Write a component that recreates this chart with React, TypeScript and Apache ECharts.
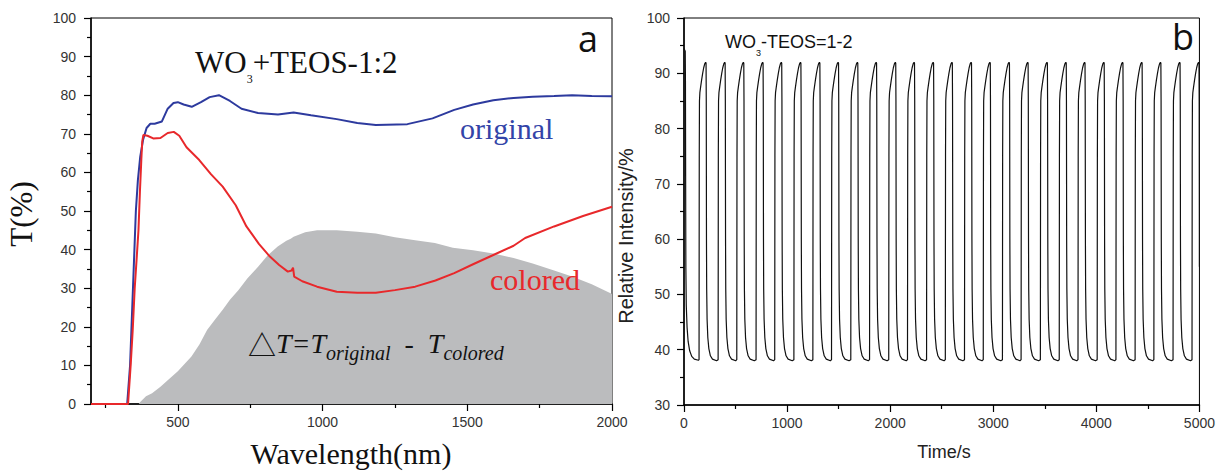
import React, { useEffect, useRef } from "react";
import * as echarts from "echarts";

// ---------- Panel a: transmittance vs wavelength ----------
const WL_MAJOR_TICKS = [500, 1000, 1500, 2000];
const WL_MINOR_TICKS = [250, 750, 1250, 1750];

const T_ORIGINAL: [number, number][] = [
  [200, 0], [325, 0], [335, 10], [345, 30], [355, 50], [362, 58], [370, 64], [380, 68.5],
  [392, 71.5], [405, 72.6], [420, 72.6], [445, 73.2], [465, 76.5], [485, 78], [500, 78.2],
  [520, 77.6], [548, 77], [580, 78.2], [610, 79.5], [642, 80], [680, 78.5], [720, 76.5],
  [777, 75.4], [846, 75], [900, 75.5], [960, 74.8], [1049, 73.8], [1120, 72.8], [1184, 72.3],
  [1293, 72.5], [1380, 74], [1455, 76.2], [1520, 77.6], [1590, 78.7], [1660, 79.3],
  [1726, 79.6], [1800, 79.8], [1862, 80], [1930, 79.8], [2000, 79.7],
];

const T_COLORED: [number, number][] = [
  [200, 0], [328, 0], [337, 10], [344, 19], [351, 30], [358, 38], [364, 45], [369, 55],
  [374, 63.5], [377, 68], [381, 69.7], [395, 69.5], [415, 68.8], [440, 68.9], [465, 70.2],
  [486, 70.5], [505, 69.5], [530, 66.5], [574, 63.2], [615, 59.5], [655, 56.3], [700, 51.5],
  [737, 46], [780, 41.5], [818, 38.2], [850, 36], [880, 34.3], [893, 34.6], [898, 35.3],
  [902, 33], [930, 31.8], [981, 30.4], [1049, 29.1], [1120, 28.8], [1184, 28.8], [1250, 29.5],
  [1320, 30.4], [1390, 32], [1455, 33.9], [1520, 36.2], [1590, 38.6], [1660, 41],
  [1700, 43], [1800, 46], [1900, 48.7], [2000, 51.1],
];

const T_DELTA: [number, number][] = [
  [365, 0], [370, 0.5], [390, 2], [411, 2.8], [440, 4.5], [466, 6.2], [500, 8.5], [547, 12.3],
  [575, 15.5], [601, 19.2], [630, 22], [655, 24.4], [680, 27], [709, 29.5], [740, 32.5],
  [778, 35.6], [810, 38.5], [845, 40.8], [875, 42.3], [890, 42.8], [900, 43.3], [940, 44.5],
  [981, 45], [1049, 45], [1120, 44.6], [1184, 44.2], [1250, 43.2], [1320, 42.4], [1388, 41.7],
  [1450, 40.5], [1520, 39.8], [1590, 39], [1660, 37.8], [1726, 36.4], [1800, 34.6],
  [1862, 33], [1930, 31], [1995, 28.7], [2000, 28.5],
];

// ---------- Panel b: cycling ----------
// times (s) of each bleaching rise
const RISE_TIMES = [
  146, 331, 512, 699, 880, 1066, 1250, 1431, 1618, 1800, 1986, 2168, 2353, 2535,
  2721, 2903, 3089, 3270, 3457, 3640, 3822, 4008, 4190, 4376, 4558, 4744, 4928,
];
// one cycle: [seconds after rise, relative intensity %]
const CYCLE_SHAPE: [number, number][] = [
  [0, 38.2], [2, 75], [4, 85], [8, 86.5], [15, 87.5], [25, 88.8], [35, 90], [45, 91],
  [55, 91.7], [64, 92], [68, 91.8], [70, 85], [72, 60], [74, 51], [78, 45.5], [85, 42.2],
  [95, 40.2], [110, 38.9], [130, 38.3], [170, 38],
];
// the first colouring step, from t = 0
const START_SHAPE: [number, number][] = [
  [0, 94.5], [12, 94], [14, 88.5], [16, 70], [18, 55], [22, 48], [30, 44], [40, 41.5],
  [55, 39.8], [75, 38.8], [100, 38.3], [140, 38.1],
];
const END_POINT: [number, number] = [5000, 55];

function buildCycling(): [number, number][] {
  const pts: [number, number][] = START_SHAPE.slice();
  RISE_TIMES.forEach((r) => {
    CYCLE_SHAPE.forEach(([dt, v]) => {
      const t = r + dt;
      if (t <= 5000) pts.push([t, v]);
    });
  });
  pts.push(END_POINT);
  return pts;
}

const SANS = '"Liberation Sans", Arial, sans-serif';
const SERIF = '"Liberation Serif", "Times New Roman", serif';

export default function App() {
  const ref = useRef<HTMLDivElement>(null);

  useEffect(() => {
    if (!ref.current) return;
    const chart = echarts.init(ref.current, undefined, { renderer: "svg" });

    const axisLine = { show: true, onZero: false, lineStyle: { color: "#000", width: 1.5 } };
    const tickStyle = { color: "#000", width: 1.2 };
    const plain = (v: number) => String(v);
    const labelStyle = { fontFamily: SANS, fontSize: 14, color: "#333", formatter: plain };

    chart.setOption({
      animation: false,
      backgroundColor: "#fff",
      grid: [
        { left: 91, top: 18, width: 521, height: 386, show: true, borderColor: "#000", borderWidth: 1, backgroundColor: "transparent" },
        { left: 684, top: 18, width: 521, height: 387, show: true, borderColor: "#000", borderWidth: 1, backgroundColor: "transparent" },
      ],
      xAxis: [
        {
          type: "value", gridIndex: 0, min: 200, max: 2000, position: "bottom",
          axisLine,
          axisTick: { show: true, customValues: WL_MAJOR_TICKS, length: 7, lineStyle: tickStyle },
          axisLabel: { ...labelStyle, customValues: WL_MAJOR_TICKS, margin: 11 },
          splitLine: { show: false },
        },
        {
          type: "value", gridIndex: 0, min: 200, max: 2000, position: "bottom",
          axisLine: { show: false, onZero: false },
          axisTick: { show: true, customValues: WL_MINOR_TICKS, length: 4, lineStyle: tickStyle },
          axisLabel: { show: false },
          splitLine: { show: false },
        },
        {
          type: "value", gridIndex: 1, min: 0, max: 5000, interval: 1000, position: "bottom",
          axisLine,
          axisTick: { show: true, length: 7, lineStyle: tickStyle },
          minorTick: { show: true, splitNumber: 2, length: 4, lineStyle: tickStyle },
          axisLabel: { ...labelStyle, margin: 11 },
          splitLine: { show: false },
        },
      ],
      yAxis: [
        {
          type: "value", gridIndex: 0, min: 0, max: 100, interval: 10,
          axisLine,
          axisTick: { show: true, length: 7, lineStyle: tickStyle },
          minorTick: { show: true, splitNumber: 2, length: 4, lineStyle: tickStyle },
          axisLabel: { ...labelStyle, margin: 15 },
          splitLine: { show: false },
        },
        {
          type: "value", gridIndex: 1, min: 30, max: 100, interval: 10,
          axisLine,
          axisTick: { show: true, length: 7, lineStyle: tickStyle },
          minorTick: { show: true, splitNumber: 2, length: 4, lineStyle: tickStyle },
          axisLabel: { ...labelStyle, margin: 14 },
          splitLine: { show: false },
        },
      ],
      series: [
        {
          name: "delta", type: "line", xAxisIndex: 0, yAxisIndex: 0, data: T_DELTA,
          showSymbol: false, symbol: "none", color: "#BBBCBE",
          lineStyle: { width: 0 }, areaStyle: { color: "#BBBCBE", opacity: 1 }, z: 1,
        },
        {
          name: "original", type: "line", xAxisIndex: 0, yAxisIndex: 0, data: T_ORIGINAL,
          showSymbol: false, symbol: "none", color: "#2D3A9E",
          lineStyle: { width: 2, color: "#2D3A9E" }, z: 2,
        },
        {
          name: "colored", type: "line", xAxisIndex: 0, yAxisIndex: 0, data: T_COLORED,
          showSymbol: false, symbol: "none", color: "#E8282B",
          lineStyle: { width: 2, color: "#E8282B" }, z: 3,
        },
        {
          name: "cycling", type: "line", xAxisIndex: 2, yAxisIndex: 1, data: buildCycling(),
          showSymbol: false, symbol: "none", color: "#111",
          lineStyle: { width: 1.2, color: "#111" }, clip: true, z: 2,
        },
      ],
      graphic: [
        {
          type: "text", z: 100, x: 21, y: 214, rotation: Math.PI / 2,
          style: { text: "T(%)", font: `31px ${SERIF}`, fill: "#111", align: "center", verticalAlign: "middle" },
        },
        {
          type: "text", z: 100, x: 351, y: 453,
          style: { text: "Wavelength(nm)", font: `30px ${SERIF}`, fill: "#111", align: "center", verticalAlign: "middle" },
        },
        {
          type: "text", z: 100, x: 195, y: 47,
          style: {
            text: "{m|WO}{s|3}{m|+TEOS-1:2}", align: "left", verticalAlign: "top", fill: "#111",
            rich: {
              m: { fontFamily: SERIF, fontSize: 31, lineHeight: 31, verticalAlign: "top", fill: "#111" },
              s: { fontFamily: SERIF, fontSize: 12, lineHeight: 12, verticalAlign: "top", padding: [26, 0, 0, 0], fill: "#111" },
            },
          },
        },
        {
          type: "text", z: 100, x: 588, y: 38,
          style: { text: "a", font: `36px "Open Sans", ${SANS}`, fill: "#111", align: "center", verticalAlign: "middle" },
        },
        {
          type: "text", z: 100, x: 460, y: 128,
          style: { text: "original", font: `30px ${SERIF}`, fill: "#3344A8", align: "left", verticalAlign: "middle" },
        },
        {
          type: "text", z: 100, x: 490, y: 279,
          style: { text: "colored", font: `30px ${SERIF}`, fill: "#E8282B", align: "left", verticalAlign: "middle" },
        },
        {
          type: "text", z: 100, x: 248, y: 329.5,
          style: {
            text: "{d|△}{m|T=T}{s|original}{m|  -  T}{s|colored}", align: "left", verticalAlign: "top", fill: "#111",
            rich: {
              d: { fontFamily: '"Noto Sans CJK SC", "DejaVu Sans"', fontSize: 28, lineHeight: 28, verticalAlign: "top", fill: "#111" },
              m: { fontFamily: SERIF, fontStyle: "italic", fontSize: 28, lineHeight: 28, verticalAlign: "top", fill: "#111" },
              s: { fontFamily: SERIF, fontStyle: "italic", fontSize: 20, lineHeight: 20, verticalAlign: "top", padding: [13, 0, 0, 0], fill: "#111" },
            },
          },
        },
        {
          type: "text", z: 100, x: 626, y: 236, rotation: Math.PI / 2,
          style: { text: "Relative Intensity/%", font: `20px ${SANS}`, fill: "#222", align: "center", verticalAlign: "middle" },
        },
        {
          type: "text", z: 100, x: 944, y: 452,
          style: { text: "Time/s", font: `18px ${SANS}`, fill: "#222", align: "center", verticalAlign: "middle" },
        },
        {
          type: "text", z: 100, x: 725, y: 33,
          style: {
            text: "{m|WO}{s|3}{m|-TEOS=1-2}", align: "left", verticalAlign: "top", fill: "#111",
            rich: {
              m: { fontFamily: SANS, fontSize: 18, lineHeight: 18, verticalAlign: "top", fill: "#111" },
              s: { fontFamily: SANS, fontSize: 9, lineHeight: 9, verticalAlign: "top", padding: [15, 0, 0, 0], fill: "#111" },
            },
          },
        },
        {
          type: "text", z: 100, x: 1183, y: 36,
          style: { text: "b", font: `36px "Open Sans", ${SANS}`, fill: "#111", align: "center", verticalAlign: "middle" },
        },
      ],
    });

    return () => chart.dispose();
  }, []);

  return (
    <div
      ref={ref}
      style={{ position: "fixed", left: 0, top: 0, width: 1218, height: 475, background: "#fff" }}
    />
  );
}
